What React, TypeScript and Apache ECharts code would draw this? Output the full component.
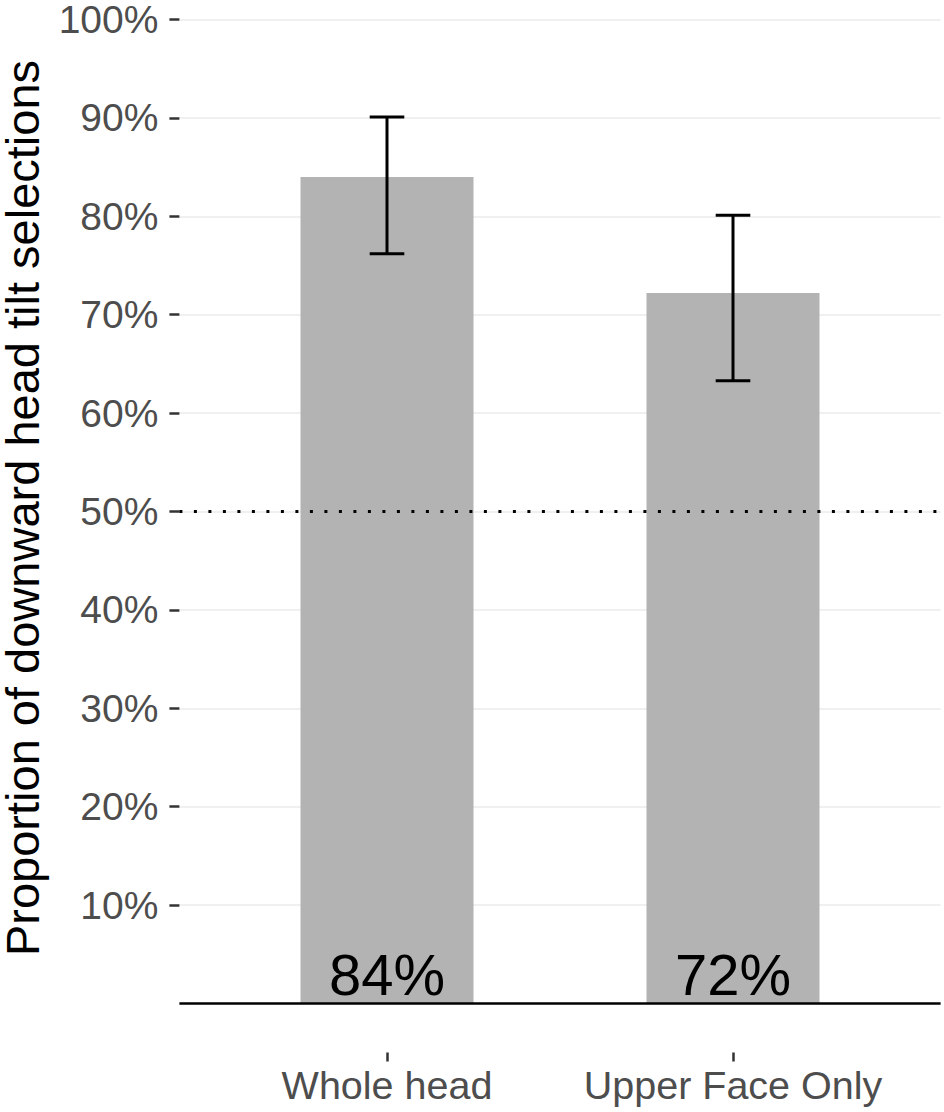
import React, { useEffect, useRef } from "react";
import * as echarts from "echarts";

const categories = ["Whole head", "Upper Face Only"];
const proportions = [84.0, 72.2];
const ciLower = [76.2, 63.3];
const ciUpper = [90.1, 80.1];
const barLabels = ["84%", "72%"];
const yTickValues = [10, 20, 30, 40, 50, 60, 70, 80, 90, 100];
const chanceLevel = 50;
const yTitle = "Proportion of downward head tilt selections";

const FONT = "'Liberation Sans', Arial, Helvetica, sans-serif";

export default function App() {
  const ref = useRef<HTMLDivElement>(null);

  useEffect(() => {
    if (!ref.current) return;
    const chart = echarts.init(ref.current, undefined, { renderer: "svg" });
    const positions = categories.map((_, i) => i + 1);

    const option: any = {
      animation: false,
      backgroundColor: "#ffffff",
      grid: { left: 179.4, right: 3.4, top: 18.2, bottom: 108.5, containLabel: false },
      xAxis: {
        type: "value",
        min: 0.4,
        max: 2.6,
        offset: 49,
        axisLine: { show: false, onZero: false },
        splitLine: { show: false },
        axisTick: {
          show: true,
          length: 9,
          customValues: positions,
          lineStyle: { color: "#333333", width: 2.5 },
        },
        axisLabel: {
          show: true,
          customValues: positions,
          formatter: (v: number) => categories[Math.round(v) - 1] ?? "",
          fontSize: 39.5,
          fontFamily: FONT,
          color: "#4d4d4d",
          margin: 12,
        },
      },
      yAxis: {
        type: "value",
        min: 0,
        max: 100,
        interval: 10,
        axisLine: { show: false },
        axisTick: {
          show: true,
          length: 10,
          customValues: yTickValues,
          lineStyle: { color: "#333333", width: 2.5 },
        },
        axisLabel: {
          customValues: yTickValues,
          formatter: (v: number) => `${v}%`,
          fontSize: 39,
          fontFamily: FONT,
          color: "#4d4d4d",
          margin: 21,
        },
        splitLine: { show: true, lineStyle: { color: "#f0f0f0", width: 2 } },
      },
      graphic: [
        {
          type: "text",
          x: 22,
          y: 508,
          rotation: Math.PI / 2,
          style: {
            text: yTitle,
            font: `47px ${FONT}`,
            fill: "#000000",
            textAlign: "center",
            textVerticalAlign: "middle",
          },
          z: 10,
        },
      ],
      series: [
        {
          type: "bar",
          data: positions.map((p, i) => [p, proportions[i]]),
          barWidth: "50%",
          itemStyle: { color: "#b3b3b3" },
          label: {
            show: true,
            position: "insideBottom",
            distance: 0,
            formatter: (p: any) => barLabels[p.dataIndex],
            fontSize: 58,
            fontFamily: FONT,
            color: "#000000",
          },
          z: 2,
        },
        {
          type: "line",
          data: [],
          markLine: {
            silent: true,
            symbol: ["none", "none"],
            label: { show: false },
            data: [
              { yAxis: chanceLevel, lineStyle: { color: "#000000", width: 3, type: [3, 11.5] } },
              { yAxis: 0, lineStyle: { color: "#000000", width: 2.5, type: "solid" } },
            ],
          },
          z: 4,
        },
        {
          type: "custom",
          data: positions.map((p, i) => [p, ciLower[i], ciUpper[i]]),
          renderItem: (params: any, api: any) => {
            const x = api.value(0);
            const lo = api.value(1);
            const hi = api.value(2);
            const top = api.coord([x, hi]);
            const bot = api.coord([x, lo]);
            const l = api.coord([x - 0.05, hi])[0];
            const r = api.coord([x + 0.05, hi])[0];
            const style = { stroke: "#000000", lineWidth: 3 };
            return {
              type: "group",
              children: [
                { type: "line", shape: { x1: top[0], y1: top[1], x2: bot[0], y2: bot[1] }, style },
                { type: "line", shape: { x1: l, y1: top[1], x2: r, y2: top[1] }, style },
                { type: "line", shape: { x1: l, y1: bot[1], x2: r, y2: bot[1] }, style },
              ],
            };
          },
          z: 5,
        },
      ],
    };

    chart.setOption(option);
    return () => chart.dispose();
  }, []);

  return (
    <div
      ref={ref}
      style={{ position: "absolute", left: 0, top: 0, width: 944, height: 1112 }}
    />
  );
}
